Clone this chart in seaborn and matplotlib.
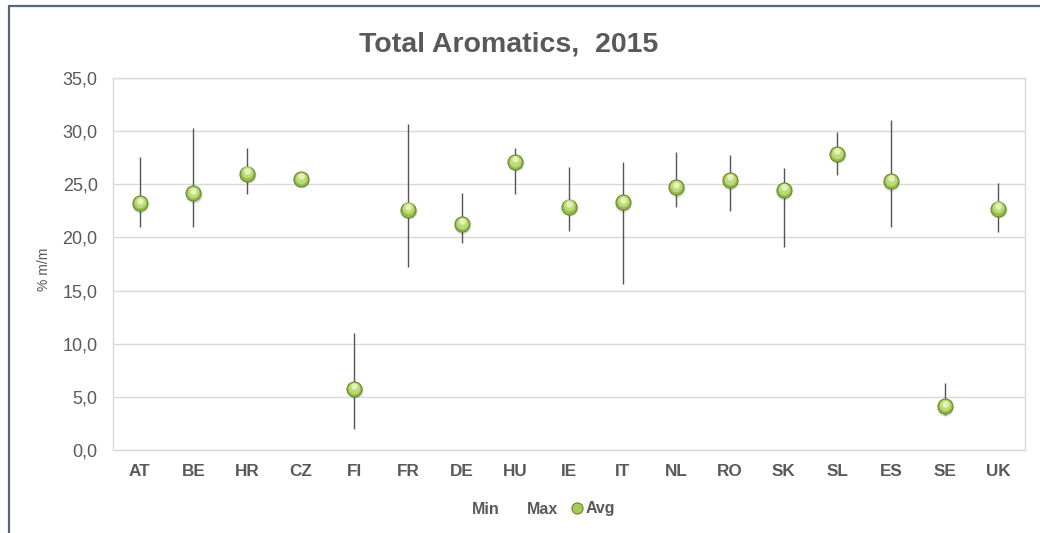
import numpy as np
import pandas as pd
import matplotlib
matplotlib.use("Agg")
import matplotlib.pyplot as plt
import matplotlib.transforms as mtransforms
from matplotlib.lines import Line2D
from matplotlib.ticker import FuncFormatter, MultipleLocator
import seaborn as sns

countries = ["AT", "BE", "HR", "CZ", "FI", "FR", "DE", "HU", "IE", "IT",
             "NL", "RO", "SK", "SL", "ES", "SE", "UK"]
avg_vals = [23.2, 24.15, 26.0, 25.5, 5.75, 22.6, 21.25, 27.1, 22.9, 23.3,
            24.7, 25.4, 24.45, 27.85, 25.3, 4.1, 22.7]
min_vals = [21.0, 21.0, 24.05, 25.4, 1.95, 17.2, 19.45, 24.05, 20.6, 15.6,
            22.9, 22.5, 19.1, 25.9, 20.95, 3.3, 20.5]
max_vals = [27.6, 30.3, 28.4, 25.6, 11.0, 30.65, 24.15, 28.4, 26.65, 27.05,
            28.0, 27.75, 26.55, 29.9, 31.05, 6.3, 25.15]

title = "Total Aromatics,  2015"
ylabel = "% m/m"

df = pd.DataFrame({"country": countries, "avg": avg_vals,
                   "min": min_vals, "max": max_vals})

sns.set_theme(style="white")
plt.rcParams["font.family"] = ["Liberation Sans", "DejaVu Sans"]

W, H, DPI = 1040, 533, 100
fig = plt.figure(figsize=(W / DPI, H / DPI), dpi=DPI)
fig.patch.set_facecolor("white")
ax = fig.add_axes([113 / W, 1 - 450 / H, (1025 - 113) / W, (450 - 78) / H])

txt = "#595959"
grid = "#d9d9d9"

# high-low lines
ax.vlines(df["country"], df["min"], df["max"], color="#555555", linewidth=1.0, zorder=2)

def shifted(dx_px, dy_px):
    return ax.transData + mtransforms.ScaledTranslation(dx_px / DPI, dy_px / DPI, fig.dpi_scale_trans)

def s_of(d_px):
    return (d_px * 72 / DPI) ** 2

# shadow
sns.scatterplot(data=df, x="country", y="avg", ax=ax, s=s_of(16), color="#000000",
                alpha=0.15, linewidth=0, zorder=3, legend=False)
ax.collections[-1].set_offset_transform(shifted(0.5, -1.5))
# base sphere
sns.scatterplot(data=df, x="country", y="avg", ax=ax, s=s_of(15), color="#96bc48",
                edgecolor="#67882a", linewidth=0.8, zorder=4, legend=False)
# mid light
sns.scatterplot(data=df, x="country", y="avg", ax=ax, s=s_of(11.5), color="#bcdb78",
                linewidth=0, zorder=5, legend=False)
ax.collections[-1].set_offset_transform(shifted(0, 1.3))
# highlight
sns.scatterplot(data=df, x="country", y="avg", ax=ax, s=s_of(6.5), color="#e3f2bd",
                linewidth=0, zorder=6, legend=False)
ax.collections[-1].set_offset_transform(shifted(0, 2.8))

ax.set_xlim(-0.5, len(countries) - 0.5)
ax.set_ylim(0, 35)
ax.yaxis.set_major_locator(MultipleLocator(5))
ax.yaxis.set_major_formatter(FuncFormatter(lambda v, p: f"{v:.1f}".replace(".", ",")))
ax.grid(axis="y", color=grid, linewidth=1.0)
ax.set_axisbelow(True)
for sp in ax.spines.values():
    sp.set_visible(True)
    sp.set_color(grid)
    sp.set_linewidth(1.0)

ax.tick_params(axis="y", length=0, pad=11, labelsize=13, labelcolor=txt)
ax.tick_params(axis="x", length=0, pad=10, labelsize=12.3, labelcolor=txt)
for lab in ax.get_xticklabels():
    lab.set_fontweight("bold")
ax.set_xlabel("")
ax.set_ylabel("")

fig.text(44.5 / W, 1 - 269 / H, ylabel, rotation=90, ha="center", va="center",
         fontsize=10, color=txt)
fig.text(509 / W, 1 - 45 / H, title, ha="center", va="center", fontsize=20.5,
         fontweight="bold", color=txt)

# legend
h_min = Line2D([], [], linestyle="none", marker=None)
h_max = Line2D([], [], linestyle="none", marker=None)
h_avg = Line2D([], [], linestyle="none", marker="o", markersize=8,
               markerfacecolor="#a6c95a", markeredgecolor="#67882a", markeredgewidth=0.8)
leg = fig.legend([h_min, h_max, h_avg], ["Min", "Max", "Avg"], ncol=3,
                 loc="center", bbox_to_anchor=(536 / W, 1 - 509 / H), frameon=False,
                 handlelength=0.8, handletextpad=0.15, columnspacing=0.75,
                 prop={"size": 11.5, "weight": "bold"})
for t in leg.get_texts():
    t.set_color(txt)

# outer frame (left and top)
frame_c = "#55657f"
fig.add_artist(Line2D([9 / W, 9 / W], [0, 1 - 6 / H], transform=fig.transFigure,
                      color=frame_c, linewidth=1.6))
fig.add_artist(Line2D([9 / W, 1], [1 - 6 / H, 1 - 6 / H], transform=fig.transFigure,
                      color=frame_c, linewidth=1.6))

fig.savefig("out.png", dpi=DPI, facecolor="white")
